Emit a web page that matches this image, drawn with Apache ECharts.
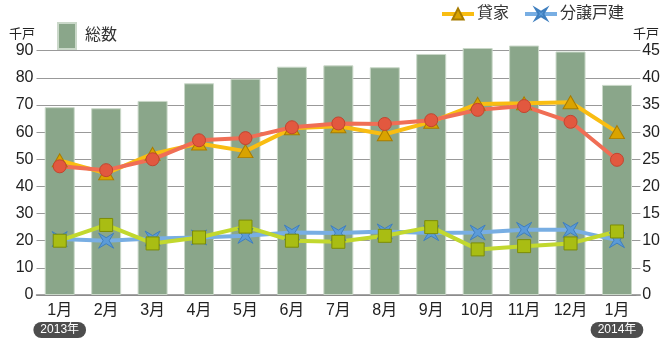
<!DOCTYPE html>
<html>
<head>
<meta charset="utf-8">
<script src="https://cdn.jsdelivr.net/npm/echarts@6/dist/echarts.min.js"></script>
<style>
html,body{margin:0;padding:0;background:#fff;}
#c{width:663px;height:345px;}
</style>
</head>
<body>
<div id="c"></div>
<script>
const categories = ['1月','2月','3月','4月','5月','6月','7月','8月','9月','10月','11月','12月','1月'];
const years = ['2013年','','','','','','','','','','','','2014年'];
const total = [69.2, 68.8, 71.5, 78.0, 79.7, 84.1, 84.6, 83.9, 88.8, 91.0, 91.9, 89.7, 77.4];
const rental = [24.8, 22.4, 26.0, 27.9, 26.5, 30.7, 31.1, 29.6, 31.9, 35.2, 35.3, 35.5, 30.0];
const owned = [23.7, 23.0, 25.0, 28.5, 28.9, 30.9, 31.6, 31.5, 32.2, 34.1, 34.8, 31.9, 24.9];
const detached = [10.3, 10.0, 10.4, 10.6, 10.9, 11.5, 11.4, 11.7, 11.4, 11.5, 12.0, 12.0, 10.1];
const condo = [10.0, 12.9, 9.5, 10.6, 12.6, 10.0, 9.8, 10.9, 12.5, 8.4, 9.0, 9.5, 11.7];
const leftTicks = {min: 0, max: 90, interval: 10};
const rightTicks = {min: 0, max: 45, interval: 5};
const unitLabel = '千戸';

const FONT = "'Liberation Sans', 'Noto Sans CJK JP', sans-serif";
const starPath = 'path://M-10,-10 L0,-4 L10,-10 L4,0 L10,10 L0,4 L-10,10 L-4,0 Z';

const chart = echarts.init(document.getElementById('c'), null, {renderer: 'canvas'});
chart.setOption({
  animation: false,
  textStyle: {fontFamily: FONT},
  grid: {left: 36.5, right: 22.5, top: 50.7, bottom: 50, containLabel: false},
  legend: [
    {
      data: ['総数'],
      left: 52, top: 17,
      itemWidth: 18, itemHeight: 26,
      icon: 'rect',
      textStyle: {fontSize: 16, color: '#333', fontFamily: FONT, padding: [0,0,0,4]}
    },
    {
      data: ['貸家', '分譲戸建'],
      left: 435, top: 1,
      itemWidth: 32, itemHeight: 14, itemGap: 14,
      lineStyle: {width: 4},
      textStyle: {fontSize: 16, color: '#333', fontFamily: FONT, padding: [0,0,0,-2]}
    }
  ],
  graphic: [
    {type: 'text', x: 35, y: 33, style: {text: unitLabel, align: 'right', verticalAlign: 'middle', font: "13px 'Noto Sans CJK JP'", fill: '#222'}},
    {type: 'text', x: 633, y: 33, style: {text: unitLabel, align: 'left', verticalAlign: 'middle', font: "13px 'Noto Sans CJK JP'", fill: '#222'}}
  ],
  xAxis: {
    type: 'category',
    data: categories,
    boundaryGap: true,
    axisLine: {lineStyle: {color: '#888', width: 1.5}},
    axisTick: {show: false},
    axisLabel: {
      interval: 0,
      margin: 4,
      formatter: function (v, i) {
        return years[i] ? '{m|' + v + '}\n{y|' + years[i] + '}' : '{m|' + v + '}';
      },
      rich: {
        m: {fontSize: 16, lineHeight: 23, color: '#222', fontFamily: FONT},
        y: {fontSize: 12, lineHeight: 16, height: 16, color: '#fff', backgroundColor: '#4d4d4d', borderRadius: 8, padding: [0, 7, 0, 7], fontFamily: FONT}
      }
    }
  },
  yAxis: [
    {
      type: 'value', min: leftTicks.min, max: leftTicks.max, interval: leftTicks.interval,
      axisLine: {show: false},
      axisTick: {show: false},
      axisLabel: {fontSize: 16, color: '#222', margin: 3, fontFamily: FONT},
      splitLine: {lineStyle: {color: '#999', width: 1.2}}
    },
    {
      type: 'value', min: rightTicks.min, max: rightTicks.max, interval: rightTicks.interval,
      position: 'right',
      axisLine: {show: false},
      axisTick: {show: true, inside: true, length: 4, lineStyle: {color: '#999'}},
      axisLabel: {fontSize: 16, color: '#222', margin: 2, fontFamily: FONT},
      splitLine: {show: false}
    }
  ],
  series: [
    {
      name: '総数', type: 'bar', yAxisIndex: 0, data: total, barWidth: 30, clip: false,
      itemStyle: {color: '#8aa68a', borderColor: '#cad8c9', borderWidth: 1}
    },
    {
      name: '貸家', type: 'line', yAxisIndex: 1, data: rental,
      lineStyle: {color: '#f9bd12', width: 4},
      symbol: 'triangle', symbolSize: [15, 13],
      itemStyle: {color: '#d9a300', borderColor: '#a87c00', borderWidth: 1}
    },
    {
      name: '持家', type: 'line', yAxisIndex: 1, data: owned,
      lineStyle: {color: '#f06e55', width: 4},
      symbol: 'circle', symbolSize: 13,
      itemStyle: {color: '#e2583f', borderColor: '#c24530', borderWidth: 1}
    },
    {
      name: '分譲戸建', type: 'line', yAxisIndex: 1, data: detached,
      lineStyle: {color: '#78aee3', width: 4},
      symbol: starPath, symbolSize: 15,
      itemStyle: {color: '#5b9bd8', borderColor: '#3f7fbf', borderWidth: 1}
    },
    {
      name: '分譲マンション', type: 'line', yAxisIndex: 1, data: condo,
      lineStyle: {color: '#c2d82e', width: 4},
      symbol: 'rect', symbolSize: 13,
      itemStyle: {color: '#a9bd13', borderColor: '#7c8c08', borderWidth: 1}
    }
  ]
});
</script>
</body>
</html>
